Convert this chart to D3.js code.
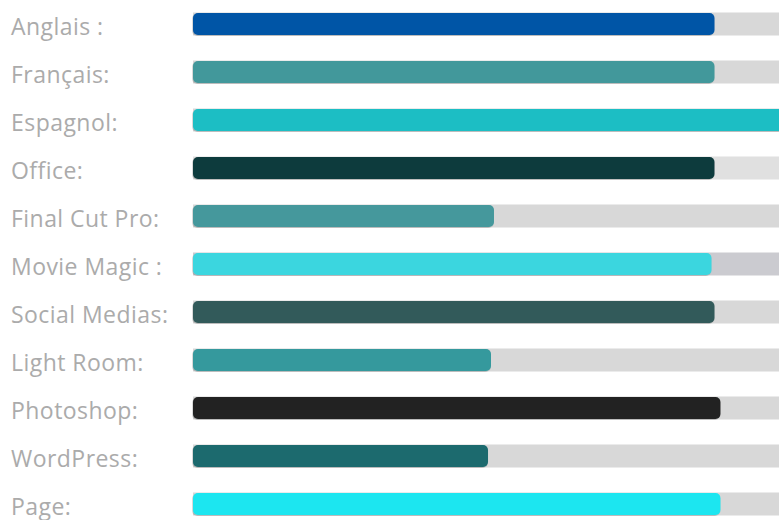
<!DOCTYPE html>
<html>
<head>
<meta charset="utf-8">
<script src="https://cdn.jsdelivr.net/npm/d3@7"></script>
<style>
  html, body { margin: 0; padding: 0; background: #fff; overflow: hidden; }
  svg { display: block; }
</style>
</head>
<body>
<svg id="chart" width="779" height="520"></svg>
<script>
const categories = ["Anglais :", "Français:", "Espagnol:", "Office:", "Final Cut Pro:", "Movie Magic :", "Social Medias:", "Light Room:", "Photoshop:", "WordPress:", "Page:"];
const values = [87.5, 87.5, 100, 87.5, 50.5, 87, 87.5, 50, 88.5, 49.5, 88.5];
const barColors = ["#0255a6", "#43989b", "#1bbec4", "#0e3a3c", "#44989c", "#3ad6df", "#335a5a", "#35999d", "#202424", "#1a6a6e", "#1ce6f0"];
const trackColors = ["#d8d8d8", "#d8d8d8", "#d8d8d8", "#e0e0e0", "#d8d8d8", "#cbcbd0", "#d8d8d8", "#d8d8d8", "#d8d8d8", "#d8d8d8", "#d8d8d8"];
const maxValue = 100;

const svg = d3.select("#chart");

const rowStep = 48;
const firstBaseline = 35;
const y = d3.scaleBand()
  .domain(categories)
  .range([0.5, 0.5 + rowStep * categories.length])
  .paddingInner(0.52)
  .paddingOuter(0.26);

const x = d3.scaleLinear().domain([0, maxValue]).range([193, 789]);

const defs = svg.append("defs");
const f = defs.append("filter").attr("id", "sh").attr("x", "-5%").attr("y", "-30%").attr("width", "110%").attr("height", "160%");
f.append("feDropShadow").attr("dx", -0.6).attr("dy", 0.8).attr("stdDeviation", 0.6).attr("flood-color", "#000").attr("flood-opacity", 0.25);

const rows = svg.selectAll("g.row").data(categories).join("g").attr("class", "row");

const barH = 23;
function barY(c) { return y(c) + y.bandwidth() / 2 - barH / 2; }

// tracks
rows.append("rect")
  .attr("x", x(0))
  .attr("y", c => barY(c) - 0.5)
  .attr("width", x(maxValue) - x(0) + 20)
  .attr("height", barH)
  .attr("fill", (c, i) => trackColors[i]);

// bars
rows.append("rect")
  .attr("x", x(0))
  .attr("y", c => barY(c))
  .attr("width", (c, i) => x(values[i]) - x(0))
  .attr("height", barH - 1)
  .attr("rx", 5).attr("ry", 5)
  .attr("fill", (c, i) => barColors[i])
  .attr("filter", "url(#sh)");

// labels
rows.append("text")
  .attr("x", 11)
  .attr("y", (c, i) => firstBaseline + i * rowStep)
  .attr("font-family", "'Open Sans', 'Noto Sans', sans-serif")
  .attr("font-size", 23)
  .attr("letter-spacing", 0.45)
  .attr("fill", "#ababab")
  .text(c => c);
</script>
</body>
</html>
